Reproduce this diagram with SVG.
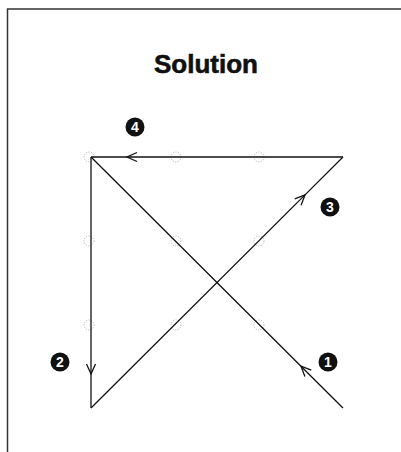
<svg xmlns="http://www.w3.org/2000/svg" width="401" height="452" viewBox="0 0 401 452">
<style>
  .edge { fill: none; stroke: #111; stroke-width: 1.3; marker-mid: url(#arr); }
  .grid { fill: none; stroke: #999; stroke-width: 0.8; stroke-dasharray: 1 1.5; }
  .badge circle { fill: #111; }
  .badge text { fill: #fff; font-family: "Liberation Sans", Arial, sans-serif; font-weight: bold; font-size: 14px; text-anchor: middle; }
  .title { font-family: "Liberation Sans", Arial, sans-serif; font-weight: bold; font-size: 26px; text-anchor: middle; fill: #111; stroke: #111; stroke-width: 0.6; }
</style>
<defs>
  <marker id="arr" viewBox="-11 -6 12 12" markerWidth="12" markerHeight="12" refX="0" refY="0" orient="auto" markerUnits="userSpaceOnUse">
    <path d="M-10,-4.5 L0,0 L-10,4.5" fill="none" stroke="#111" stroke-width="1.3"/>
  </marker>
</defs>
<rect width="401" height="452" fill="#fff"/>
<g id="frame">
  <path d="M7.5,452 L7.5,9 L401,9" fill="none" stroke="#333" stroke-width="1.5"/>
</g>
<text id="title" class="title" x="206" y="73">Solution</text>
<g id="grid">
  <circle class="grid" cx="89" cy="157" r="5"/>
  <circle class="grid" cx="176" cy="157" r="5"/>
  <circle class="grid" cx="259" cy="157" r="5"/>
  <circle class="grid" cx="89" cy="241" r="5"/>
  <circle class="grid" cx="176" cy="241" r="5"/>
  <circle class="grid" cx="259" cy="241" r="5"/>
  <circle class="grid" cx="89" cy="325" r="5"/>
  <circle class="grid" cx="176" cy="325" r="5"/>
  <circle class="grid" cx="259" cy="325" r="5"/>
</g>
<g id="connectors">
  <path id="edge1" class="edge" d="M343,408 L301,366.2 L91,157"/>
  <path id="edge2" class="edge" d="M91,157 L91,374 L91,408"/>
  <path id="edge3" class="edge" d="M91,408 L305,194.9 L343,157"/>
  <path id="edge4" class="edge" d="M343,157 L127,157 L91,157"/>
</g>
<g id="badge1" class="badge"><circle cx="328" cy="362" r="9.5"/><text x="328" y="367">1</text></g>
<g id="badge2" class="badge"><circle cx="60" cy="362" r="9.5"/><text x="60" y="367">2</text></g>
<g id="badge3" class="badge"><circle cx="330" cy="207" r="9.5"/><text x="330" y="212">3</text></g>
<g id="badge4" class="badge"><circle cx="135" cy="127" r="9.5"/><text x="135" y="132">4</text></g>
</svg>
